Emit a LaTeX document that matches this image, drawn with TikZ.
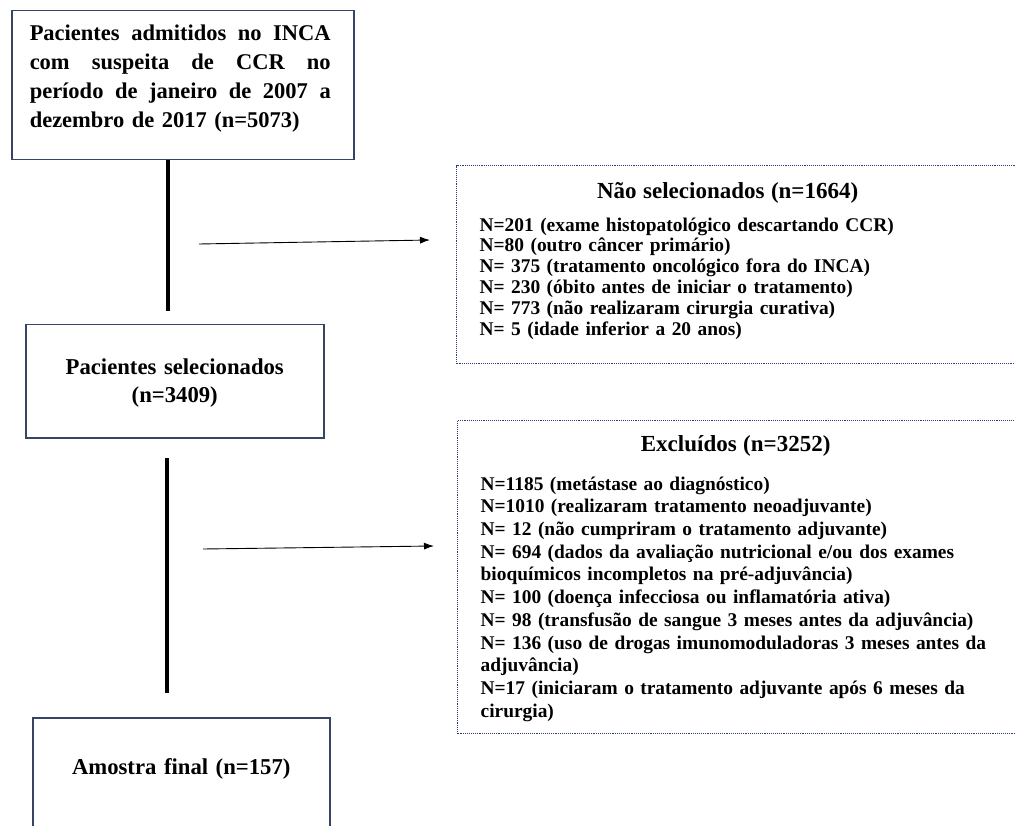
\documentclass[tikz,border=0pt]{standalone}
\usepackage{fontspec}
\setmainfont{Liberation Serif}
\usepackage{xcolor}
\usetikzlibrary{arrows.meta,positioning}
\definecolor{boxblue}{RGB}{55,68,102}
\definecolor{dotblue}{RGB}{48,62,122}
\newcommand{\fullline}[1]{\leavevmode\hbox to 301pt{#1}}
\newcommand{\boxtitle}[2]{\makebox[#1]{\fontsize{23}{26}\selectfont #2}}

\begin{document}
\begin{tikzpicture}[x=1pt, y=-1pt,
  box/.style={rectangle, draw=boxblue, line width=1.5pt, anchor=north west,
    inner ysep=0pt, inner xsep=20pt, font=\bfseries\fontsize{22.7}{28}\selectfont},
  dotbox/.style={rectangle, draw=dotblue, line width=1.3pt,
    dash pattern=on 1pt off 0.9pt, anchor=north west, inner ysep=0pt,
    inner xsep=23pt, text width=560pt, align=left,
    font=\bfseries\fontsize{19.4}{#1}\selectfont},
  vline/.style={line width=3.2pt, black},
  arr/.style={-{Latex[length=10pt,width=7pt]}, line width=0.9pt, black}
]
\useasboundingbox (0,0) rectangle (1015,826);
% Left column: flow of patients
\node[box, text width=306pt, inner xsep=18pt, align=left, text height=30pt,
  text depth=119pt, font=\bfseries\fontsize{22.5}{29}\selectfont]
  (admitidos) at (11,10) {
  \fullline{Pacientes\hfil admitidos\hfil no\hfil INCA}\\
  \fullline{com\hfil suspeita\hfil de\hfil CCR\hfil no}\\
  \fullline{período\hfil de\hfil janeiro\hfil de\hfil 2007\hfil a}\\
  dezembro de 2017 (n=5073)};
\node[box, text width=258pt, align=center, text height=50pt, text depth=63pt]
  (selecionados) at (25,324) {Pacientes selecionados\\(n=3409)};
\node[box, text width=257pt, align=center, text height=57pt, text depth=140pt]
  (amostra) at (32,717) {Amostra final (n=157)};
% Right column: dotted boxes
\node[dotbox=20.8pt, text height=33pt, text depth=165pt] (naosel) at (456,165) {
  \boxtitle{496pt}{Não selecionados (n=1664)}\\[11.7pt]
  N=201 (exame histopatológico descartando CCR)\\
  N=80 (outro câncer primário)\\
  N= 375 (tratamento oncológico fora do INCA)\\
  N= 230 (óbito antes de iniciar o tratamento)\\
  N= 773 (não realizaram cirurgia curativa)\\
  N= 5 (idade inferior a 20 anos)};
\node[dotbox=22.7pt, text height=31pt, text depth=282pt] (excluidos) at (457,420) {
  \boxtitle{510pt}{Excluídos (n=3252)}\\[15.8pt]
  N=1185 (metástase ao diagnóstico)\\
  N=1010 (realizaram tratamento neoadjuvante)\\
  N= 12 (não cumpriram o tratamento adjuvante)\\
  N= 694 (dados da avaliação nutricional e/ou dos exames\\
  bioquímicos incompletos na pré-adjuvância)\\
  N= 100 (doença infecciosa ou inflamatória ativa)\\
  N= 98 (transfusão de sangue 3 meses antes da adjuvância)\\
  N= 136 (uso de drogas imunomoduladoras 3 meses antes da\\
  adjuvância)\\
  N=17 (iniciaram o tratamento adjuvante após 6 meses da\\
  cirurgia)};
% Connectors
\coordinate (l1e) at (168,311);
\coordinate (l2s) at (167,458);
\coordinate (l2e) at (167,693);
\coordinate (a1s) at (199,244);
\coordinate (a1e) at (430,240);
\coordinate (a2s) at (203,549);
\coordinate (a2e) at (434,546);
\draw[vline] (admitidos.south -| l1e) -- (l1e);
\draw[vline] (l2s) -- (l2e);
\draw[arr] (a1s) -- (a1e);
\draw[arr] (a2s) -- (a2e);
\end{tikzpicture}
\end{document}
